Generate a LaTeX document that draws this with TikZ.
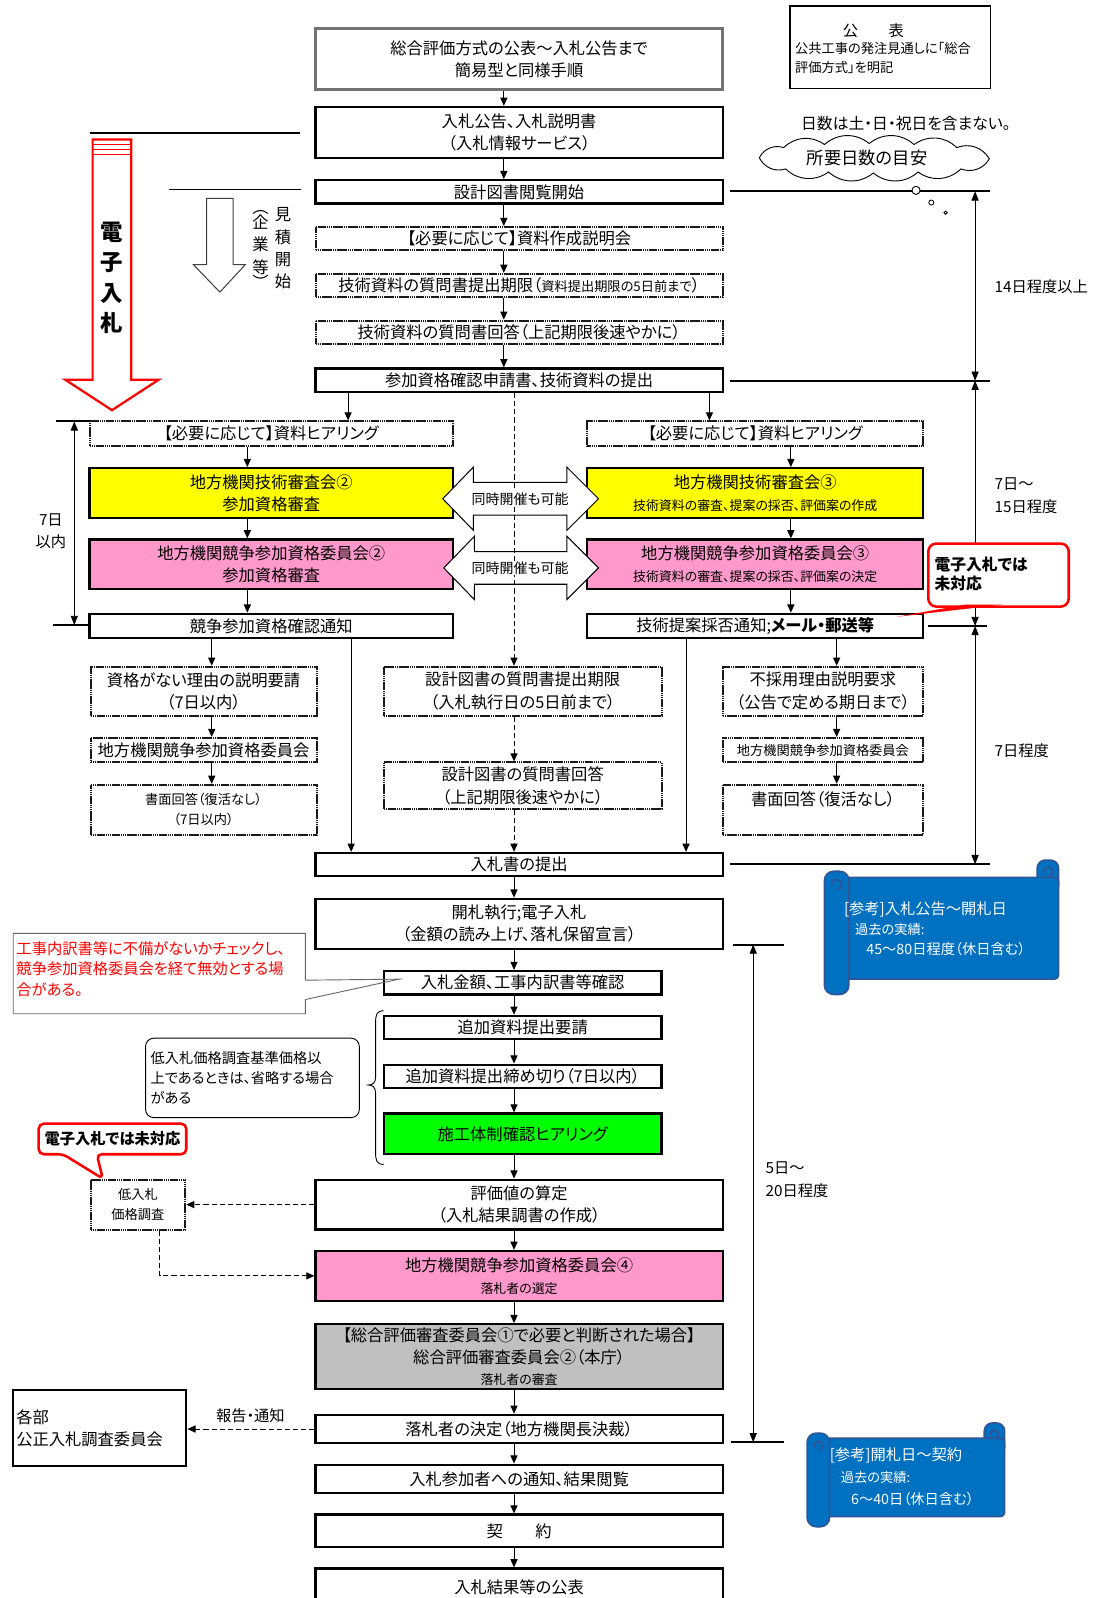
\documentclass[tikz,border=0pt]{standalone}
\usepackage{fontspec}
\setmainfont[RawFeature=+palt]{Noto Sans CJK JP}
\usetikzlibrary{arrows.meta}
\newcommand\fsz[2]{\fontsize{#1}{#2}\selectfont}
\definecolor{yel}{HTML}{FFFF00}
\definecolor{pnk}{HTML}{FF99CC}
\definecolor{grn}{HTML}{00FF00}
\definecolor{gry}{HTML}{C0C0C0}
\definecolor{sblue}{HTML}{0070C0}
\definecolor{sdark}{HTML}{2F5597}
\begin{document}
\begin{tikzpicture}[x=1pt,y=-1pt,
  bx/.style={align=center, inner sep=0pt, font=\fsz{16}{22}},
  sbox/.style={bx, draw=black, line width=2.2pt, fill=white},
  gbox/.style={bx, draw=black!90, line width=1.9pt, dash pattern=on 1.6pt off 0.5pt, fill=white},
  abox/.style={bx, draw=black!55, line width=3pt, fill=white},
  arr/.style={-{Triangle[length=8pt,width=7pt]}, line width=1pt},
  darr/.style={arr, dash pattern=on 5pt off 3pt},
  dimarr/.style={{Triangle[length=9pt,width=7pt]}-{Triangle[length=9pt,width=7pt]}, line width=0.9pt},
  tickln/.style={line width=2pt},
  lbl/.style={inner sep=0pt, font=\fsz{15}{22}},
  hollow/.style={draw=black, line width=1pt, fill=white},
  scrollbody/.style={fill=sblue, draw=sdark, line width=1.6pt},
  stext/.style={text=white, inner sep=0pt, anchor=west},
]
\useasboundingbox (0,0) rectangle (1083,1570);
\fill[white] (0,0) rectangle (1083,1570);

% x guides
\coordinate (xm) at (495,0);
\coordinate (xn) at (505,0);
\coordinate (xl) at (243,0);
\coordinate (xr) at (777,0);
\coordinate (xg1) at (342,0);
\coordinate (xg2) at (697,0);
\coordinate (xq) at (208,0);
\coordinate (xrq) at (822,0);
\coordinate (xv1) at (345,0);
\coordinate (xv2) at (674,0);

% ---------- main column top ----------
\node[abox, minimum width=400pt, minimum height=60pt] (A) at (510,58) {総合評価方式の公表～入札公告まで\\簡易型と同様手順};
\node[sbox, minimum width=400pt, minimum height=50pt] (B) at (510,130) {入札公告、入札説明書\\（入札情報サービス）};
\node[sbox, minimum width=400pt, minimum height=23pt] (C) at (510,188.5) {設計図書閲覧開始};
\node[gbox, minimum width=400pt, minimum height=23pt] (D) at (510,234.5) {【必要に応じて】資料作成説明会};
\node[gbox, minimum width=400pt, minimum height=23pt] (E) at (510,280.5) {技術資料の質問書提出期限（{\fsz{13}{16}資料提出期限の5日前まで}）};
\node[gbox, minimum width=400pt, minimum height=23pt] (F) at (510,326.5) {技術資料の質問書回答（上記期限後速やかに）};
\node[sbox, minimum width=400pt, minimum height=23pt] (G) at (510,373.5) {参加資格確認申請書、技術資料の提出};

% ---------- left column ----------
\node[gbox, minimum width=357pt, minimum height=24pt] (LH) at (266.5,426) {【必要に応じて】資料ヒアリング};
\node[sbox, fill=yel, minimum width=357pt, minimum height=49pt] (LY) at (266.5,484.5) {地方機関技術審査会②\\参加資格審査};
\node[sbox, fill=pnk, minimum width=357pt, minimum height=49pt] (LP) at (266.5,554.5) {地方機関競争参加資格委員会②\\参加資格審査};
\node[sbox, minimum width=357pt, minimum height=24pt] (LN) at (266.5,615) {競争参加資格確認通知};

% ---------- right column ----------
\node[gbox, minimum width=330pt, minimum height=24pt] (RH) at (742,426) {【必要に応じて】資料ヒアリング};
\node[sbox, fill=yel, minimum width=330pt, minimum height=49pt] (RY) at (742,484.5) {地方機関技術審査会③\\{\fsz{12.7}{16}技術資料の審査、提案の採否、評価案の作成}};
\node[sbox, fill=pnk, minimum width=330pt, minimum height=49pt] (RP) at (742,554.5) {地方機関競争参加資格委員会③\\{\fsz{12.7}{16}技術資料の審査、提案の採否、評価案の決定}};
\node[sbox, minimum width=330pt, minimum height=24pt] (RN) at (742,615) {技術提案採否通知;{\bfseries メール・郵送等}};

% ---------- lower branches ----------
\node[gbox, minimum width=222pt, minimum height=48pt] (LQ1) at (200,679) {資格がない理由の説明要請\\（7日以内）};
\node[gbox, minimum width=222pt, minimum height=24pt] (LQ2) at (200,737) {地方機関競争参加資格委員会};
\node[gbox, minimum width=222pt, minimum height=49pt, font=\fsz{13}{20}] (LQ3) at (200,795.5) {書面回答（復活なし）\\（7日以内）};

\node[gbox, minimum width=273pt, minimum height=48pt] (CQ1) at (513.5,679) {設計図書の質問書提出期限\\（入札執行日の5日前まで）};
\node[gbox, minimum width=273pt, minimum height=46pt] (CQ2) at (513.5,772) {設計図書の質問書回答\\（上記期限後速やかに）};

\node[gbox, minimum width=197pt, minimum height=48pt] (RQ1) at (808.5,679) {不採用理由説明要求\\（公告で定める期日まで）};
\node[gbox, minimum width=197pt, minimum height=24pt, font=\fsz{13}{16}] (RQ2) at (808.5,737) {地方機関競争参加資格委員会};
\node[gbox, minimum width=197pt, minimum height=49pt] (RQ3) at (808.5,795.5) {書面回答（復活なし）\\\mbox{}};

% ---------- main column lower ----------
\node[sbox, minimum width=400pt, minimum height=23pt] (BID) at (510,849.5) {入札書の提出};
\node[sbox, minimum width=400pt, minimum height=49pt] (OPEN) at (510,907.5) {開札執行;電子入札\\（金額の読み上げ、落札保留宣言）};
\node[sbox, minimum width=273pt, minimum height=23pt] (CHK) at (513.5,965.5) {入札金額、工事内訳書等確認};
\node[sbox, minimum width=273pt, minimum height=23pt] (ADD1) at (513.5,1009.5) {追加資料提出要請};
\node[sbox, minimum width=273pt, minimum height=23pt] (ADD2) at (513.5,1057.5) {追加資料提出締め切り（7日以内）};
\node[sbox, fill=grn, minimum width=273pt, minimum height=40pt] (GRN) at (513.5,1114) {施工体制確認ヒアリング};
\node[sbox, minimum width=400pt, minimum height=49pt] (EVAL) at (510,1183.5) {評価値の算定\\（入札結果調書の作成）};
\node[sbox, fill=pnk, minimum width=400pt, minimum height=49pt] (P4) at (510,1253.5) {地方機関競争参加資格委員会④\\{\fsz{12.7}{16}落札者の選定}};
\node[sbox, fill=gry, minimum width=400pt, minimum height=64pt, font=\fsz{16}{21}] (GR) at (510,1333) {【総合評価審査委員会①で必要と判断された場合】\\総合評価審査委員会②（本庁）\\{\fsz{12.7}{16}落札者の審査}};
\node[sbox, minimum width=400pt, minimum height=28pt] (DEC) at (510,1404) {落札者の決定（地方機関長決裁）};
\node[sbox, minimum width=400pt, minimum height=28pt] (NOT) at (510,1453) {入札参加者への通知、結果閲覧};
\node[sbox, minimum width=400pt, minimum height=32pt] (CON) at (510,1504) {契　　約};
\node[sbox, minimum width=400pt, minimum height=36pt] (PUB) at (510,1559) {入札結果等の公表};

% ---------- left side items ----------
\node[gbox, minimum width=93pt, minimum height=49pt, font=\fsz{13}{20}] (LOW) at (135.5,1183.5) {低入札\\価格調査};
\node[sbox, minimum width=170pt, minimum height=74pt, align=left, text width=164pt, inner sep=3pt] (KB) at (98,1403) {各部\\公正入札調査委員会};
\node[draw, rounded corners=8pt, line width=0.9pt, align=left, text width=200pt, minimum height=78pt, inner sep=5pt, font=\fsz{14}{19.5}] (NOTE) at (248,1059) {低入札価格調査基準価格以\\上であるときは、省略する場合\\がある};

% ---------- connectors ----------
\foreach \a/\b in {A/B,B/C,C/D,D/E,E/F,F/G}
  \draw[arr] (\a.south -| xm) -- (\b.north -| xm);
\draw[arr] (G.south -| xg1) -- (LH.north -| xg1);
\draw[arr] (G.south -| xg2) -- (RH.north -| xg2);
\foreach \a/\b in {LH/LY,LY/LP,LP/LN}
  \draw[arr] (\a.south -| xl) -- (\b.north -| xl);
\foreach \a/\b in {RH/RY,RY/RP,RP/RN}
  \draw[arr] (\a.south -| xr) -- (\b.north -| xr);
\foreach \a/\b in {LN/LQ1,LQ1/LQ2,LQ2/LQ3}
  \draw[arr] (\a.south -| xq) -- (\b.north -| xq);
\foreach \a/\b in {RN/RQ1,RQ1/RQ2,RQ2/RQ3}
  \draw[arr] (\a.south -| xrq) -- (\b.north -| xrq);
\draw[arr] (LN.south -| xv1) -- (BID.north -| xv1);
\draw[arr] (RN.south -| xv2) -- (BID.north -| xv2);
\foreach \a/\b in {BID/OPEN,OPEN/CHK,CHK/ADD1,ADD1/ADD2,ADD2/GRN,GRN/EVAL,EVAL/P4,P4/GR,GR/DEC,DEC/NOT,NOT/CON,CON/PUB}
  \draw[arr] (\a.south -| xn) -- (\b.north -| xn);

% hollow double arrows (drawn over the boxes)
\draw[hollow] (435,490) -- (465,459) -- (465,474) -- (557,474) -- (557,459) -- (588,490) -- (557,521) -- (557,506) -- (465,506) -- (465,521) -- cycle;
\draw[hollow] (436,558) -- (466,527) -- (466,542) -- (557,542) -- (557,527) -- (588,558) -- (557,589) -- (557,574) -- (466,574) -- (466,589) -- cycle;

% dashed centre path
\draw[darr] (G.south -| xn) -- (CQ1.north -| xn);
\draw[darr] (CQ1.south -| xn) -- (CQ2.north -| xn);
\draw[darr] (CQ2.south -| xn) -- (BID.north -| xn);
\node[fill=white, inner sep=1pt, font=\fsz{13.7}{16}] (SIM1) at (511,490) {同時開催も可能};
\node[fill=white, inner sep=1pt, font=\fsz{13.7}{16}] (SIM2) at (511,558) {同時開催も可能};

\draw[darr] (EVAL.west) -- (LOW.east);
\draw[darr] ([xshift=21.5pt]LOW.south) |- (P4.west);
\draw[darr] (DEC.west) -- (KB.east |- DEC.west);
\node[lbl] (RPT) at (246,1391) {報告・通知};

% ---------- top right ----------
\node[draw, line width=1.5pt, minimum width=197pt, minimum height=81pt, inner sep=0pt] (PB) at (874.5,46.5) {};
\node[inner sep=0pt, font=\fsz{15}{18}] (PBt) at (858,30) {公　　表};
\node[inner sep=0pt, anchor=west, align=left, font=\fsz{13}{18}] (PBb) at (781,57) {公共工事の発注見通しに「総合\\評価方式」を明記};
\node[inner sep=0pt, font=\fsz{15.5}{18}] (DAYS) at (890,121) {日数は土・日・祝日を含まない。};
% cloud
\draw[line width=0.9pt, fill=white] (746,155) to[bend left=40] (770,145) to[bend left=40] (810,142) to[bend left=40] (854,141) to[bend left=40] (898,142) to[bend left=40] (940,145) to[bend left=40] (972,156) to[bend left=40] (944,166) to[bend left=40] (902,169) to[bend left=40] (858,170) to[bend left=40] (814,169) to[bend left=40] (772,166) to[bend left=40] (746,155) -- cycle;
\node[inner sep=0pt, font=\fsz{17}{20}] (CLT) at (852,155) {所要日数の目安};

% day ranges
\draw[tickln] (717,188) -- (973,188);
\draw[line width=0.9pt, fill=white] (900,187) circle[radius=4pt];
\draw[line width=0.8pt] (915,199) circle[radius=2.5pt];
\draw[line width=0.8pt] (929,209) circle[radius=1.6pt];
\draw[tickln] (717,374) -- (973,374);
\draw[tickln] (912,615) -- (970,615);
\draw[tickln] (717,849) -- (973,849);
\draw[dimarr] (958,188) -- (958,374);
\draw[dimarr] (958,374) -- (958,615);
\draw[dimarr] (958,615) -- (958,849);
\node[lbl, anchor=west] (D14) at (977,282) {14日程度以上};
\node[lbl, anchor=west, align=left] (D715) at (977,487) {7日～\\15日程度};
\node[lbl, anchor=west] (D7) at (977,738) {7日程度};
\draw[tickln] (720,928) -- (770,928);
\draw[tickln] (718,1417) -- (770,1417);
\draw[dimarr] (740,928) -- (740,1417);
\node[lbl, anchor=west, align=left] (D520) at (752,1159) {5日～\\20日程度};

% ---------- left markers ----------
\draw[tickln] (88,131) -- (295,131);
\draw[line width=1.2pt] (166,186) -- (296,186);
\draw[tickln] (55,414) -- (88,414);
\draw[tickln] (52,614) -- (88,614);
\draw[dimarr] (73,414) -- (73,614);
\node[lbl, align=center] (D7in) at (50,522) {7日\\以内};

% red hollow arrow
\draw[red, line width=2.2pt, fill=white] (91,137) -- (129,137) -- (129,373) -- (156,373) -- (110,403) -- (64,373) -- (91,373) -- cycle;
\draw[red, line width=1.2pt] (91,142) -- (129,142) (91,147) -- (129,147) (91,152) -- (129,152);
\node[inner sep=0pt, align=center, font=\bfseries\fsz{22}{30}] (EBID) at (110,273) {電\\子\\入\\札};

% white hollow arrow
\draw[black!75, line width=1pt, fill=white] (203,195) -- (229,195) -- (229,260) -- (241,260) -- (216,287) -- (190,260) -- (203,260) -- cycle;
\node[inner sep=0pt, align=center, font=\fsz{16}{22}] (MIT) at (278,244) {見\\積\\開\\始};
\node[inner sep=0pt, align=center, font=\fsz{16}{22}] (KIG) at (256,245) {︵\\[-7pt]企\\業\\等\\[-7pt]︶};

% ---------- callouts ----------
\draw[black!60, line width=0.9pt] (300,963) -- (300,917) -- (13,917) -- (13,996) -- (300,996) -- (300,982) -- (392,962) -- (300,963);
\node[anchor=north west, align=left, text=red, inner sep=0pt, font=\fsz{15}{20}] (REDT) at (16,925) {工事内訳書等に不備がないかチェックし、\\競争参加資格委員会を経て無効とする場\\合がある。};

\draw[line width=0.9pt] (377,993) .. controls (370,993) and (369,997) .. (369,1005) -- (369,1058) .. controls (369,1064) and (366,1066) .. (362,1066) .. controls (366,1066) and (369,1068) .. (369,1074) -- (369,1132) .. controls (369,1140) and (370,1144) .. (377,1144);

\draw[red, line width=2.5pt, fill=white, rounded corners=5pt] (38,1104) -- (183,1104) -- (183,1134) -- (95,1134) -- (101,1158) -- (62,1134) -- (38,1134) -- cycle;
\node[inner sep=0pt, font=\bfseries\fsz{15}{18}] (C2) at (110.5,1119) {電子入札では未対応};

\draw[red, line width=2.5pt, fill=white, rounded corners=8pt] (912,534) rectangle (1050,596);
\fill[red] (881,606) -- (948,594) -- (985,594) -- cycle;
\node[anchor=west, align=left, inner sep=0pt, font=\bfseries\fsz{15.5}{18}] (C1) at (918,564) {電子入札では\\未対応};

% ---------- scrolls ----------
\filldraw[scrollbody, rounded corners=8pt] (1019,845) rectangle (1040,878);
\filldraw[scrollbody, rounded corners=4pt] (815,862) rectangle (1040,962);
\filldraw[scrollbody, rounded corners=9pt] (810,856) rectangle (834,977);
\draw[sdark, line width=1.6pt] (822,874) arc[start angle=-90, end angle=200, radius=5pt];
\draw[sdark, line width=1.6pt] (1030,861) arc[start angle=-90, end angle=200, radius=4.5pt];
\node[stext, font=\fsz{15}{18}] (S1a) at (829,893) {[参考]入札公告～開札日};
\node[stext, font=\fsz{13}{16}] (S1b) at (840,913) {過去の実績:};
\node[stext, font=\fsz{14}{16}] (S1c) at (851,932) {45～80日程度（休日含む）};

\filldraw[scrollbody, rounded corners=8pt] (967,1398) rectangle (987,1430);
\filldraw[scrollbody, rounded corners=4pt] (797,1413) rectangle (987,1490);
\filldraw[scrollbody, rounded corners=9pt] (793,1408) rectangle (815,1500);
\draw[sdark, line width=1.6pt] (804,1425) arc[start angle=-90, end angle=200, radius=4.5pt];
\draw[sdark, line width=1.6pt] (977,1413) arc[start angle=-90, end angle=200, radius=4pt];
\node[stext, font=\fsz{15}{18}] (S2a) at (815,1430) {[参考]開札日～契約};
\node[stext, font=\fsz{13}{16}] (S2b) at (826,1452) {過去の実績:};
\node[stext, font=\fsz{14}{16}] (S2c) at (836,1473) {6～40日（休日含む）};
\end{tikzpicture}
\end{document}
